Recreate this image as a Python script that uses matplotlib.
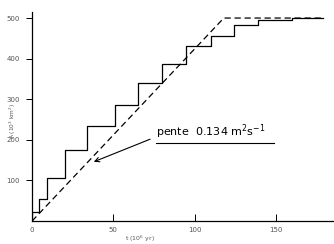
import numpy as np
import matplotlib.pyplot as plt

# step curve: area A (10^3 km^2) vs time t (10^6 yr)
step_t = [0, 4, 9, 20, 34, 51, 65, 80, 95, 110, 124, 139, 160, 179]
step_A = [22, 54, 105, 176, 234, 285, 341, 388, 432, 456, 483, 495, 500, 500]

# mean slope line (dashed)
line_t = [0, 118, 179]
line_A = [0, 500, 500]

xticks = [0, 50, 100, 150]
yticks = [100, 200, 300, 400, 500]
ytick_labels = ['100', '200', '300', '400', '500']

fig = plt.figure(figsize=(3.34, 2.44), dpi=100)
ax = fig.add_axes([0.096, 0.094, 0.90, 0.857])

# staircase, starting from the origin
ax.step([0] + step_t, [0] + step_A, where='post', color='black', lw=0.9)
ax.plot(line_t, line_A, color='black', lw=0.9, dashes=(5, 3))

ax.set_xlim(0, 185)
ax.set_ylim(0, 515)
for s in ['top', 'right']:
    ax.spines[s].set_visible(False)
for s in ['left', 'bottom']:
    ax.spines[s].set_linewidth(0.9)

ax.set_xticks(xticks)
ax.set_yticks(yticks)
ax.set_yticklabels(ytick_labels)
ax.tick_params(axis='x', direction='in', length=5, width=0.7, labelsize=5, labelcolor='#555555', pad=4)
ax.tick_params(axis='y', direction='out', length=4, width=0.7, labelsize=5, labelcolor='#555555', pad=5)

ax.set_xlabel('t (10$^6$ yr)', fontsize=4.5, color='#555555', va='center')
ax.xaxis.set_label_coords(0.36, -0.085)
ax.set_ylabel('A (10$^3$ km$^2$)', fontsize=4.2, color='#555555', va='center')
ax.yaxis.set_label_coords(-0.063, 0.48)

ax.annotate('pente  0.134 m$^2$s$^{-1}$', xy=(38, 146), xytext=(76, 197),
            fontsize=8, color='black', ha='left', va='bottom',
            arrowprops=dict(arrowstyle='->', color='black', lw=0.8,
                            shrinkA=0, shrinkB=0,
                            relpos=(-0.05, 0.1)))
# underline under handwritten label
ax.plot([76, 149], [193, 193], color='black', lw=0.8)

fig.savefig('out.png', dpi=100)
